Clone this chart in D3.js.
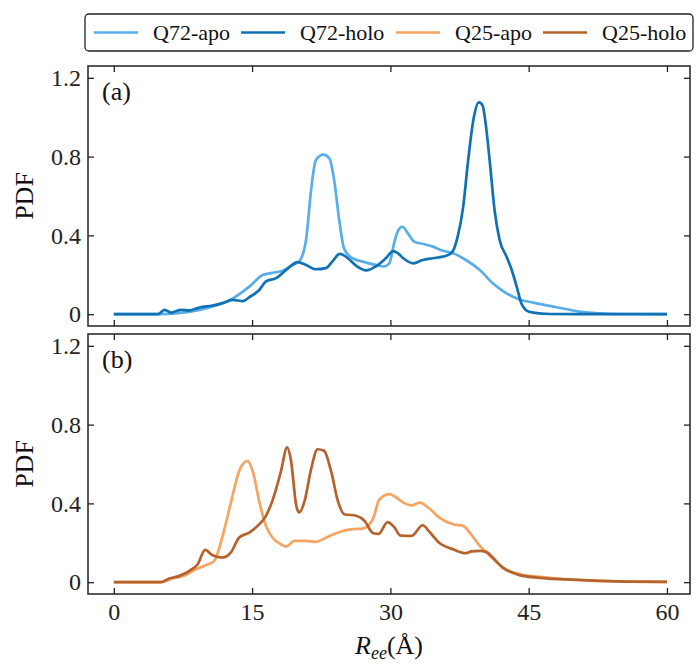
<!DOCTYPE html>
<html>
<head>
<meta charset="utf-8">
<script src="https://cdn.jsdelivr.net/npm/d3@7"></script>
<style>
  html, body { margin: 0; padding: 0; background: #fff; }
  svg { display: block; font-family: "Liberation Serif", "DejaVu Serif", serif; }
</style>
</head>
<body>
<svg id="chart" width="696" height="666"></svg>
<script>
// End-to-end distance distributions, [Ree (Å), PDF] pairs
const q72Apo = [[0,0],[5,0],[7,0.005],[9.3,0.022],[11.1,0.044],[12.9,0.08],[14.7,0.14],[16.2,0.2],[17.2,0.21],[18.3,0.22],[19.4,0.25],[20.1,0.267],[20.85,0.377],[21.4,0.63],[21.9,0.78],[22.7,0.81],[23.4,0.79],[23.9,0.68],[24.5,0.46],[25.0,0.33],[25.9,0.284],[27.4,0.262],[28.4,0.25],[29.3,0.242],[29.9,0.26],[30.4,0.36],[30.8,0.42],[31.3,0.444],[31.9,0.41],[32.6,0.368],[33.7,0.355],[34.6,0.343],[35.7,0.322],[36.8,0.309],[38.2,0.275],[39.7,0.224],[41.1,0.157],[42.6,0.106],[44.0,0.075],[45.5,0.059],[47.3,0.042],[49.1,0.025],[50.9,0.01],[52.7,0.004],[55,0.001],[60,0]];
const q72Holo = [[0,0],[4.8,0],[5.5,0.022],[6.2,0.008],[7.3,0.022],[8.2,0.019],[9.3,0.034],[10.7,0.044],[11.8,0.056],[12.9,0.073],[14.0,0.066],[14.7,0.086],[15.8,0.124],[16.5,0.166],[17.6,0.183],[18.7,0.225],[19.95,0.264],[20.85,0.25],[21.9,0.228],[23.0,0.234],[23.7,0.267],[24.5,0.306],[25.4,0.284],[26.3,0.245],[27.4,0.222],[28.4,0.242],[29.5,0.284],[30.3,0.32],[30.8,0.31],[31.4,0.284],[32.5,0.258],[33.5,0.275],[34.6,0.284],[35.7,0.292],[36.6,0.309],[37.3,0.394],[37.9,0.546],[38.4,0.766],[39.0,0.986],[39.6,1.075],[40.0,1.06],[40.3,0.98],[40.8,0.766],[41.3,0.529],[41.85,0.377],[42.6,0.292],[43.1,0.233],[43.7,0.14],[44.2,0.055],[44.7,0.021],[45.5,0.008],[47.3,0.001],[60,0]];
const q25Apo = [[0,0],[5.1,0],[6.4,0.019],[7.8,0.036],[8.9,0.066],[10.0,0.086],[10.9,0.108],[11.8,0.235],[12.7,0.404],[13.6,0.565],[14.5,0.616],[15.1,0.557],[15.8,0.404],[16.5,0.286],[17.2,0.227],[18.1,0.193],[18.7,0.181],[19.6,0.21],[20.85,0.21],[21.9,0.205],[23.4,0.235],[24.5,0.255],[25.9,0.269],[27.0,0.272],[28.1,0.32],[28.8,0.42],[29.9,0.447],[30.65,0.43],[31.4,0.404],[32.3,0.39],[33.2,0.404],[34.1,0.379],[35.3,0.328],[36.8,0.294],[37.9,0.286],[38.6,0.252],[39.7,0.184],[40.8,0.134],[42.2,0.074],[44.0,0.041],[46.2,0.027],[49.1,0.015],[52.7,0.007],[56,0.003],[60,0.002]];
const q25Holo = [[0,0],[5.1,0],[6.0,0.019],[7.1,0.032],[8.2,0.058],[9.1,0.091],[9.9,0.164],[10.7,0.137],[11.8,0.125],[12.7,0.151],[13.6,0.227],[14.7,0.252],[15.6,0.286],[16.5,0.337],[17.2,0.413],[18.1,0.557],[18.8,0.684],[19.2,0.624],[19.8,0.387],[20.1,0.354],[20.7,0.413],[21.4,0.574],[22.1,0.675],[22.8,0.667],[23.6,0.557],[24.3,0.413],[25.0,0.345],[26.3,0.337],[27.2,0.311],[28.1,0.25],[28.7,0.245],[29.7,0.305],[30.4,0.28],[31.1,0.236],[32.3,0.235],[33.5,0.289],[34.3,0.252],[35.3,0.2],[36.8,0.167],[38.2,0.147],[38.8,0.156],[39.7,0.159],[40.4,0.154],[41.1,0.125],[42.2,0.074],[44.0,0.036],[46.2,0.022],[49.1,0.014],[52.7,0.007],[56,0.003],[60,0.002]];

const seriesNames = ["Q72-apo", "Q72-holo", "Q25-apo", "Q25-holo"];
const seriesColors = ["#58aee9", "#1171b5", "#f6a462", "#b5622c"];
const xTicks = [0, 15, 30, 45, 60];
const yTicks = [0, 0.4, 0.8, 1.2];
const panelLabels = ["(a)", "(b)"];

const svg = d3.select("#chart");
const left = 88, right = 690;
const panels = [
  { top: 66, bottom: 326, label: panelLabels[0], series: [[q72Apo, 0], [q72Holo, 1]], showX: false },
  { top: 334, bottom: 594, label: panelLabels[1], series: [[q25Apo, 2], [q25Holo, 3]], showX: true }
];

const x = d3.scaleLinear().domain([-2.8, 62.5]).range([left, right]);
const tickLen = 6;
const fmtY = d => d === 0 ? "0" : d3.format(".1f")(d);

panels.forEach(p => {
  const y = d3.scaleLinear().domain([-0.06, 1.26]).range([p.bottom, p.top]);
  const g = svg.append("g");

  const clipId = "clip" + p.top;
  svg.append("clipPath").attr("id", clipId)
    .append("rect").attr("x", left).attr("y", p.top).attr("width", right - left).attr("height", p.bottom - p.top);

  const line = d3.line().x(d => x(d[0])).y(d => y(d[1])).curve(d3.curveMonotoneX);
  p.series.forEach(([data, i]) => {
    g.append("path").datum(data)
      .attr("d", line)
      .attr("fill", "none")
      .attr("stroke", seriesColors[i])
      .attr("stroke-width", 2.7)
      .attr("stroke-linejoin", "round")
      .attr("clip-path", `url(#${clipId})`);
  });

  // inward ticks on all four sides
  const axB = d3.axisBottom(x).tickValues(xTicks).tickSizeInner(-tickLen).tickSizeOuter(0)
    .tickPadding(9).tickFormat(p.showX ? d3.format("d") : "");
  const axT = d3.axisTop(x).tickValues(xTicks).tickSizeInner(-tickLen).tickSizeOuter(0).tickFormat("");
  const axL = d3.axisLeft(y).tickValues(yTicks).tickSizeInner(-tickLen).tickSizeOuter(0)
    .tickPadding(7).tickFormat(fmtY);
  const axR = d3.axisRight(y).tickValues(yTicks).tickSizeInner(-tickLen).tickSizeOuter(0).tickFormat("");

  [[axB, `translate(0,${p.bottom})`], [axT, `translate(0,${p.top})`],
   [axL, `translate(${left},0)`], [axR, `translate(${right},0)`]].forEach(([ax, tr]) => {
    const a = g.append("g").attr("transform", tr).call(ax);
    a.select(".domain").remove();
    a.selectAll("line").attr("stroke", "#222").attr("stroke-width", 1.3);
    a.selectAll("text").attr("fill", "#222").style("font-size", "24px")
      .style("font-family", "'Liberation Serif', serif");
  });

  g.append("rect")
    .attr("x", left).attr("y", p.top)
    .attr("width", right - left).attr("height", p.bottom - p.top)
    .attr("fill", "none").attr("stroke", "#222").attr("stroke-width", 1.5);

  g.append("text").attr("x", left + 14).attr("y", p.top + 34)
    .attr("fill", "#111").style("font-size", "26px").text(p.label);

  g.append("text")
    .attr("transform", `translate(33,${(p.top + p.bottom) / 2}) rotate(-90)`)
    .attr("text-anchor", "middle")
    .attr("fill", "#111").style("font-size", "26px").text("PDF");
});

// x-axis title: R_ee (Å)
const xt = svg.append("text").attr("x", (left + right) / 2).attr("y", 654)
  .attr("text-anchor", "middle").attr("fill", "#111").style("font-size", "26px");
xt.append("tspan").style("font-style", "italic").text("R");
xt.append("tspan").style("font-style", "italic").style("font-size", "18px").attr("dy", 5).text("ee");
xt.append("tspan").attr("dy", -5).text("(Å)");

// legend
const lg = svg.append("g");
lg.append("rect").attr("x", 85).attr("y", 14).attr("width", 608).attr("height", 37)
  .attr("rx", 4).attr("fill", "#fff").attr("stroke", "#222").attr("stroke-width", 1.3);
const legendX = [94, 241, 396, 543];
seriesNames.forEach((name, i) => {
  lg.append("line").attr("x1", legendX[i]).attr("x2", legendX[i] + 44)
    .attr("y1", 32.5).attr("y2", 32.5)
    .attr("stroke", seriesColors[i]).attr("stroke-width", 2.7);
  lg.append("text").attr("x", legendX[i] + 59).attr("y", 40)
    .attr("fill", "#111").style("font-size", "22px").text(name);
});
</script>
</body>
</html>
